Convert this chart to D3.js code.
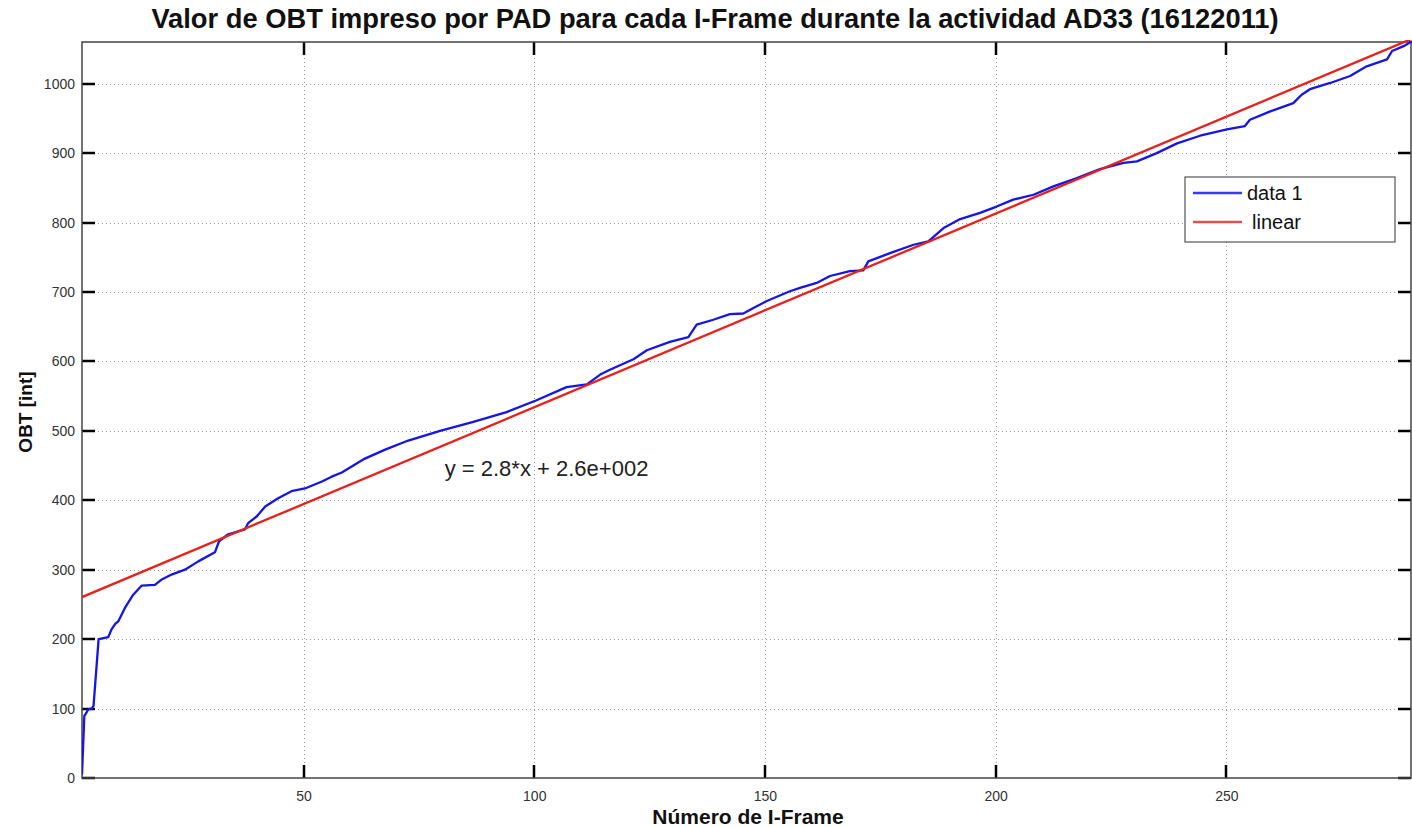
<!DOCTYPE html>
<html><head><meta charset="utf-8">
<script src="https://cdn.jsdelivr.net/npm/d3@7"></script>
<style>
body{margin:0;background:#fff;}
svg{display:block;font-family:"Liberation Sans",Arial,sans-serif;}
</style></head>
<body><svg id="c" width="1412" height="827"></svg>
<script>
// ---- data ----
const frameX = [2,2.5,3.4,4.1,4.5,5.6,7.7,8.4,9.2,9.9,11.3,13.1,14.9,17.8,19.3,21.4,24.3,27.2,30.8,31.7,33.7,37.3,38,39.9,41.7,44.5,47.4,50.3,54,56.1,58.3,63.3,67.7,72.7,79.6,86.8,94,100.5,107,111.4,114.3,116.4,121.5,124.4,129.4,133.4,135.2,138.8,142.4,145.3,147.5,150.4,155.4,157.6,161.2,164.1,168.4,171.3,172.4,177.1,182.2,185.4,188.7,192.3,196.6,200.2,203.8,208.2,212.5,217.6,222.6,227.7,230.6,234.9,239.3,244.3,250.1,254,255.1,259.5,264.5,266.3,268.1,272.5,276.8,280.4,284.8,285.9,288.4,290.2];
const obtValues = [5,89,99,100,104,200,203,214,222,226,245,264,277,278,286,293,300,312,325,341,351,358,367,377,391,403,413,417,427,434,440,460,473,486,500,513,527,544,563,567,581,588,603,616,628,635,653,660,668,669,677,687,701,706,713,723,730,731,744,756,768,773,792,805,814,823,833,840,852,864,877,886,888,900,914,925,934,939,948,960,972,984,992,1001,1011,1025,1035,1047,1054,1061];
const fitSlope = 2.79;
const fitIntercept = 255;
const xTicks = [50,100,150,200,250];
const yTicks = [0,100,200,300,400,500,600,700,800,900,1000];
const seriesNames = ["data 1","linear"];
const titleText = "Valor de OBT impreso por PAD para cada I-Frame durante la actividad AD33 (16122011)";
const xLabelText = "Número de I-Frame";
const yLabelText = "OBT [int]";
const eqText = "y = 2.8*x + 2.6e+002";

// ---- layout ----
const L=82, R=1411, T=42, B=778;
const svg = d3.select("#c");
const x = d3.scaleLinear().domain([2,290]).range([L,R]);
const y = d3.scaleLinear().domain([0,1060]).range([B,T]);

svg.append("rect").attr("x",0).attr("y",0).attr("width",1412).attr("height",827).attr("fill","#fff");

// grid
const grid = svg.append("g").attr("stroke","#9a9a9a").attr("stroke-width",1).attr("stroke-dasharray","1,3");
grid.selectAll("line.gx").data(xTicks).join("line")
  .attr("x1",d=>Math.round(x(d))+0.5).attr("x2",d=>Math.round(x(d))+0.5).attr("y1",T).attr("y2",B);
grid.selectAll("line.gy").data(yTicks.filter(d=>d>0)).join("line")
  .attr("y1",d=>Math.round(y(d))+0.5).attr("y2",d=>Math.round(y(d))+0.5).attr("x1",L).attr("x2",R);

// inward tick marks on all four sides
const tickLen = 13;
const tickPath = d3.path();
xTicks.forEach(v=>{
  const px = Math.round(x(v));
  tickPath.moveTo(px,B); tickPath.lineTo(px,B-tickLen);
  tickPath.moveTo(px,T); tickPath.lineTo(px,T+tickLen);
});
yTicks.forEach(v=>{
  const py = Math.round(y(v));
  tickPath.moveTo(L,py); tickPath.lineTo(L+tickLen,py);
  tickPath.moveTo(R,py); tickPath.lineTo(R-tickLen,py);
});
svg.append("path").attr("d",tickPath.toString()).attr("fill","none")
  .attr("stroke","#000").attr("stroke-width",2.5);

// axes (labels)
const fmt = d3.format("d");
const gxb = svg.append("g").attr("transform",`translate(0,${B})`)
  .call(d3.axisBottom(x).tickValues(xTicks).tickFormat(fmt).tickSize(0).tickPadding(18));
const gyl = svg.append("g").attr("transform",`translate(${L},0)`)
  .call(d3.axisLeft(y).tickValues(yTicks).tickFormat(fmt).tickSize(0).tickPadding(7));
[gxb,gyl].forEach(g=>{
  g.select(".domain").remove();
  g.selectAll(".tick line").remove();
  g.selectAll(".tick text").attr("fill","#333").style("font-size","14px").style("font-family","'Liberation Sans',Arial,sans-serif");
});
gxb.selectAll(".tick text").attr("dy","0.35em");

// box
svg.append("rect").attr("x",L).attr("y",T).attr("width",R-L).attr("height",B-T)
  .attr("fill","none").attr("stroke","#444").attr("stroke-width",1.5);

// clip
svg.append("clipPath").attr("id","clip").append("rect").attr("x",L).attr("y",T-2).attr("width",R-L+2).attr("height",B-T+2);
const plot = svg.append("g").attr("clip-path","url(#clip)");

const pts = frameX.map((fx,i)=>[fx,obtValues[i]]);
plot.append("path").datum(pts)
  .attr("d",d3.line().x(d=>x(d[0])).y(d=>y(d[1])))
  .attr("fill","none").attr("stroke","#1515e6").attr("stroke-width",2.3).attr("stroke-linejoin","round");

const dom = x.domain();
plot.append("path").datum(dom.map(v=>[v,fitSlope*v+fitIntercept]))
  .attr("d",d3.line().x(d=>x(d[0])).y(d=>y(d[1])))
  .attr("fill","none").attr("stroke","#e8201a").attr("stroke-width",2.3);

// equation
svg.append("text").attr("x",x(80.6)).attr("y",y(435)).text(eqText)
  .style("font-size","22px").attr("fill","#222");

// legend
const lg = svg.append("g");
lg.append("rect").attr("x",1185).attr("y",177).attr("width",210).attr("height",65)
  .attr("fill","#fff").attr("stroke","#555").attr("stroke-width",1.2);
const legColors = ["#3a3af0","#e05050"];
seriesNames.forEach((n,i)=>{
  const yy = 193 + i*29;
  lg.append("line").attr("x1",1193).attr("x2",1242).attr("y1",yy).attr("y2",yy)
    .attr("stroke",legColors[i]).attr("stroke-width",2.4);
  lg.append("text").attr("x",i===0?1247:1252).attr("y",yy+7).text(n)
    .style("font-size","20px").attr("fill","#111");
});

// titles
svg.append("text").attr("x",715).attr("y",28).attr("text-anchor","middle").text(titleText)
  .style("font-size","27.3px").style("font-weight","bold").attr("fill","#111");
svg.append("text").attr("x",748).attr("y",824).attr("text-anchor","middle").text(xLabelText)
  .style("font-size","21px").style("font-weight","bold").attr("fill","#111");
svg.append("text").attr("transform","translate(32,412) rotate(-90)").attr("text-anchor","middle").text(yLabelText)
  .style("font-size","19px").style("font-weight","bold").attr("fill","#111");
</script></body></html>
